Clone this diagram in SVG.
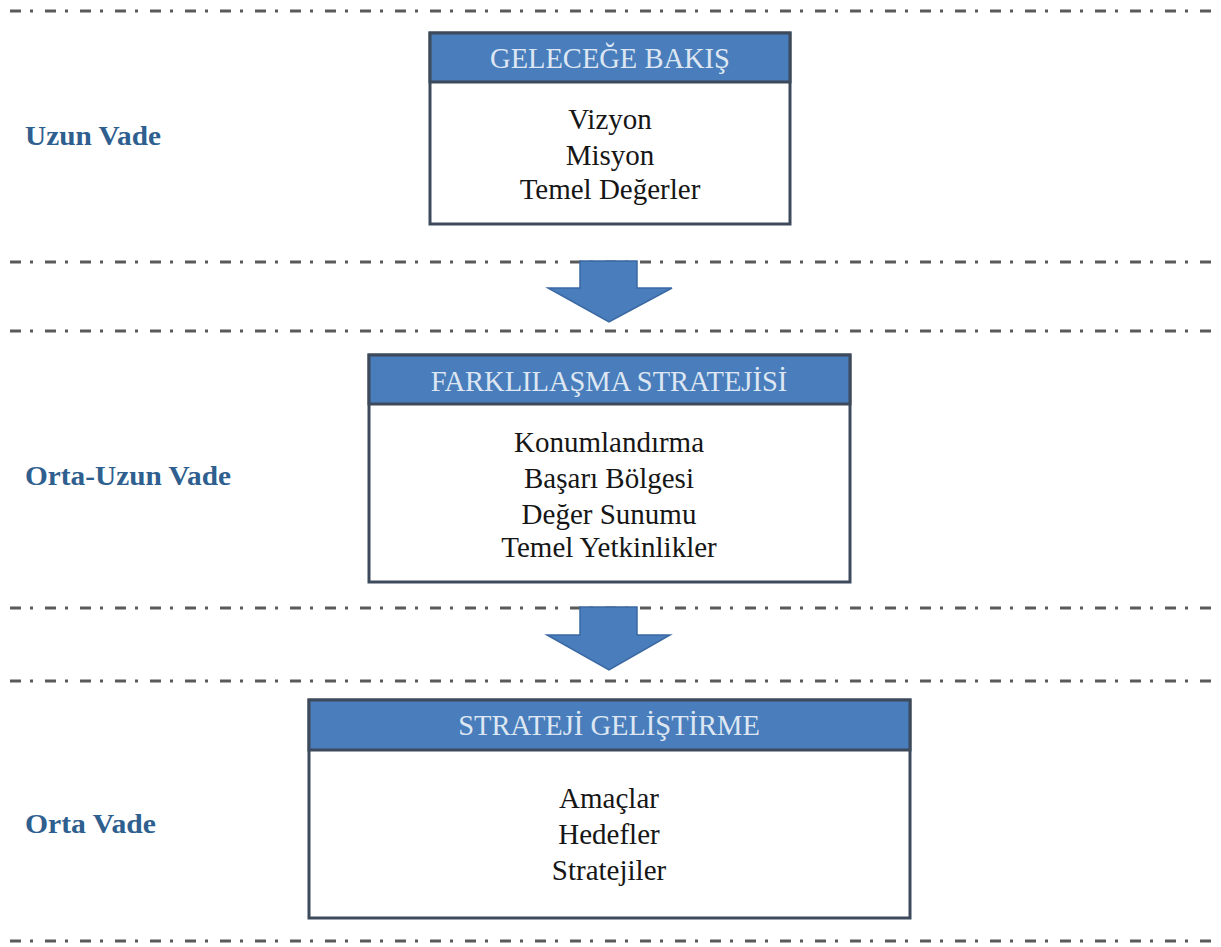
<svg xmlns="http://www.w3.org/2000/svg" width="1221" height="947" viewBox="0 0 1221 947">
  <style>
    .sep { stroke: #5a5a5a; stroke-width: 3; stroke-dasharray: 11 9 3 12; fill: none; }
    .frame { fill: #ffffff; stroke: #3c4a5c; stroke-width: 3; }
    .head { fill: #4a7dbb; stroke: #3c4a5c; stroke-width: 3; }
    .htxt { font-family: "Liberation Serif", "Times New Roman", serif; font-size: 28.5px; fill: #dde7f3; text-anchor: middle; }
    .btxt { font-family: "Liberation Serif", "Times New Roman", serif; font-size: 29px; fill: #161616; text-anchor: middle; }
    .term { font-family: "Liberation Serif", "Times New Roman", serif; font-size: 27px; font-weight: bold; fill: #2f5f8f; }
    .flow { fill: #4a7dbb; stroke: #3a68a2; stroke-width: 1.5; }
  </style>
  <rect width="1221" height="947" fill="#ffffff"/>

  <!-- horizontal dash-dot separators -->
  <g id="separators">
    <line class="sep" x1="10" y1="11" x2="1215" y2="11"/>
    <line class="sep" x1="10" y1="262" x2="1215" y2="262"/>
    <line class="sep" x1="10" y1="331" x2="1215" y2="331"/>
    <line class="sep" x1="10" y1="608" x2="1215" y2="608"/>
    <line class="sep" x1="10" y1="681" x2="1215" y2="681"/>
    <line class="sep" x1="10" y1="941" x2="1215" y2="941"/>
  </g>

  <!-- time horizon labels -->
  <g id="labels">
    <text class="term" x="25" y="145" textLength="136" lengthAdjust="spacingAndGlyphs">Uzun Vade</text>
    <text class="term" x="25" y="485" textLength="206" lengthAdjust="spacingAndGlyphs">Orta-Uzun Vade</text>
    <text class="term" x="25" y="833" textLength="131" lengthAdjust="spacingAndGlyphs">Orta Vade</text>
  </g>

  <!-- block arrows between stages -->
  <g id="connectors">
    <polygon class="flow" points="580,261 637,261 637,288 672,288 609,322 548,288 580,288"/>
    <polygon class="flow" points="580,607 637,607 637,635 670,635 609,670 547,635 580,635"/>
  </g>

  <g id="node-gelecege-bakis">
    <rect class="frame" x="430" y="33" width="360" height="191"/>
    <rect class="head" x="430" y="33" width="360" height="49"/>
    <text class="htxt" x="610" y="68">GELECEĞE BAKIŞ</text>
    <text class="btxt" x="610" y="129">Vizyon</text>
    <text class="btxt" x="610" y="165">Misyon</text>
    <text class="btxt" x="610" y="199">Temel Değerler</text>
  </g>

  <g id="node-farklilasma-stratejisi">
    <rect class="frame" x="369" y="355" width="481" height="227"/>
    <rect class="head" x="369" y="355" width="481" height="49"/>
    <text class="htxt" x="609" y="391">FARKLILAŞMA STRATEJİSİ</text>
    <text class="btxt" x="609" y="452">Konumlandırma</text>
    <text class="btxt" x="609" y="488">Başarı Bölgesi</text>
    <text class="btxt" x="609" y="524">Değer Sunumu</text>
    <text class="btxt" x="609" y="557">Temel Yetkinlikler</text>
  </g>

  <g id="node-strateji-gelistirme">
    <rect class="frame" x="309" y="700" width="601" height="218"/>
    <rect class="head" x="309" y="700" width="601" height="50"/>
    <text class="htxt" x="609" y="735">STRATEJİ GELİŞTİRME</text>
    <text class="btxt" x="609" y="808">Amaçlar</text>
    <text class="btxt" x="609" y="844">Hedefler</text>
    <text class="btxt" x="609" y="880">Stratejiler</text>
  </g>
</svg>
